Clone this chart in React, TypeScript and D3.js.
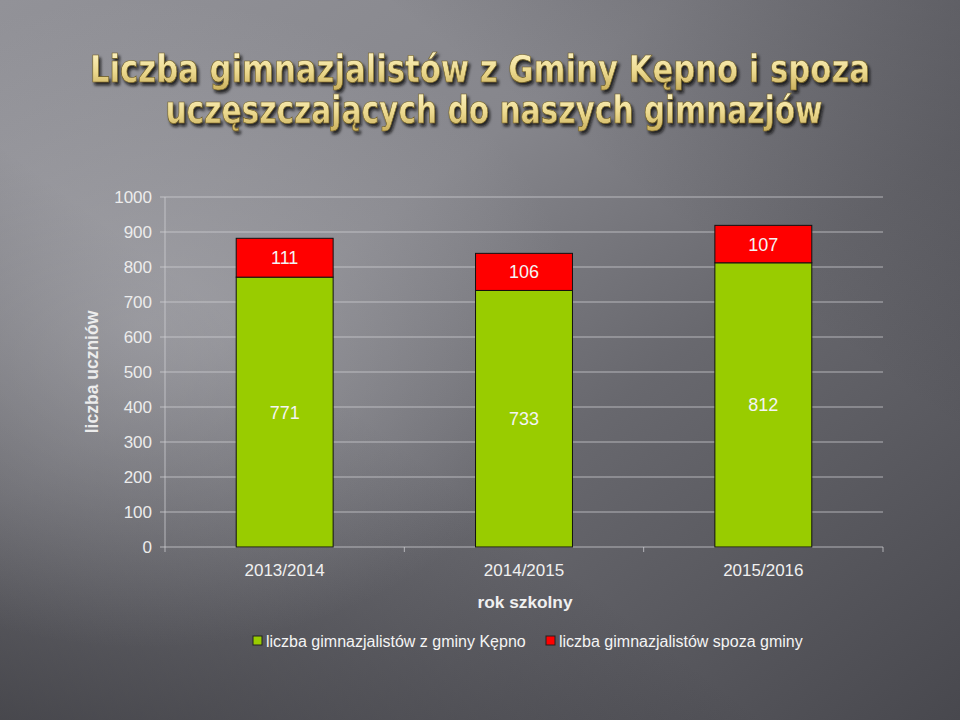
import React from "react";
import * as d3 from "d3";

const WIDTH = 960;
const HEIGHT = 720;

const years = ["2013/2014", "2014/2015", "2015/2016"];
const fromGmina = [771, 733, 812];
const outside = [111, 106, 107];
const yTicks = [0, 100, 200, 300, 400, 500, 600, 700, 800, 900, 1000];
const seriesNames = ["liczba gimnazjalistów z gminy Kępno", "liczba gimnazjalistów spoza gminy"];
const seriesColors = ["#99cc00", "#ff0000"];
const titleLines = ["Liczba gimnazjalistów z Gminy Kępno i spoza", "uczęszczających do naszych gimnazjów"];

const margin = { left: 165, right: 77, top: 197, bottom: 173 };
const FONT = "Liberation Sans, Arial, sans-serif";

export default function App() {
  const x = d3.scaleBand<string>()
    .domain(years)
    .range([margin.left, WIDTH - margin.right])
    .paddingInner(0.595)
    .paddingOuter(0.2975);
  const band = d3.scaleBand<string>().domain(years).range([margin.left, WIDTH - margin.right]);
  const y = d3.scaleLinear().domain([0, 1000]).range([HEIGHT - margin.bottom, margin.top]);

  const rows = years.map((yr, i) => ({ yr, a: fromGmina[i], b: outside[i] }));
  const stacked = d3.stack<any>().keys(["a", "b"])(rows);

  return (
    <svg width={WIDTH} height={HEIGHT} style={{ display: "block", position: "absolute", left: 0, top: 0 }}>
      <defs>
        <linearGradient id="bg" x1="0" y1="0" x2="1" y2="1">
          <stop offset="0" stopColor="#929298" />
          <stop offset="0.35" stopColor="#86868c" />
          <stop offset="0.6" stopColor="#68686e" />
          <stop offset="1" stopColor="#48484e" />
        </linearGradient>
        <linearGradient id="bg2" x1="0" y1="1" x2="1" y2="0">
          <stop offset="0" stopColor="#2a2a2f" stopOpacity="0.6" />
          <stop offset="0.4" stopColor="#2a2a2f" stopOpacity="0" />
          <stop offset="0.7" stopColor="#2e2e33" stopOpacity="0" />
          <stop offset="1" stopColor="#3a3a40" stopOpacity="0.35" />
        </linearGradient>
        <radialGradient id="glow" cx="0.15" cy="0.45" r="0.45">
          <stop offset="0" stopColor="#b8b8bd" stopOpacity="0.45" />
          <stop offset="1" stopColor="#b8b8bd" stopOpacity="0" />
        </radialGradient>
        <linearGradient id="gold" x1="0" y1="0" x2="0" y2="1">
          <stop offset="0" stopColor="#fff6c8" />
          <stop offset="0.55" stopColor="#ecd98e" />
          <stop offset="1" stopColor="#c9ae5a" />
        </linearGradient>
        <filter id="shadow" x="-5%" y="-20%" width="110%" height="150%">
          <feDropShadow dx="2" dy="3" stdDeviation="1.5" floodColor="#111" floodOpacity="0.85" />
        </filter>
      </defs>
      <rect width={WIDTH} height={HEIGHT} fill="url(#bg)" />
      <rect width={WIDTH} height={HEIGHT} fill="url(#bg2)" />
      <rect width={WIDTH} height={HEIGHT} fill="url(#glow)" />

      {/* title */}
      <g fontFamily="Liberation Sans Narrow, DejaVu Sans Condensed, Arial, sans-serif" fontSize={37} fontWeight="bold"
        fill="url(#gold)" stroke="#6b5a20" strokeWidth={0.6} filter="url(#shadow)" textAnchor="middle">
        <text x={480} y={82} textLength={780} lengthAdjust="spacingAndGlyphs">{titleLines[0]}</text>
        <text x={494} y={123} textLength={657} lengthAdjust="spacingAndGlyphs">{titleLines[1]}</text>
      </g>

      {/* gridlines and y axis */}
      <g fontFamily={FONT} fontSize={17} fill="#ececec">
        {yTicks.map(t => (
          <g key={t}>
            <line x1={margin.left - 5} x2={WIDTH - margin.right} y1={y(t)} y2={y(t)}
              stroke="#d0d0d4" strokeOpacity={0.75} strokeWidth={1} />
            <text x={152} y={y(t)} dy="0.36em" textAnchor="end">{t}</text>
          </g>
        ))}
        <line x1={margin.left} x2={margin.left} y1={y(1000)} y2={y(0) + 5} stroke="#d0d0d4" strokeOpacity={0.75} />
        {years.map(yr => (
          <line key={yr} x1={(band(yr) ?? 0) + band.bandwidth()} x2={(band(yr) ?? 0) + band.bandwidth()}
            y1={y(0)} y2={y(0) + 5} stroke="#d0d0d4" strokeOpacity={0.75} />
        ))}
        <text transform={`translate(98,${y(500)}) rotate(-90)`} textAnchor="middle" fontWeight="bold" fontSize={17.5}>
          liczba uczniów
        </text>
      </g>

      {/* bars */}
      {stacked.map((s, si) => (
        <g key={si}>
          {s.map((d, i) => (
            <rect key={i} x={x(years[i])} width={x.bandwidth()} y={y(d[1])} height={y(d[0]) - y(d[1])}
              fill={seriesColors[si]} stroke="#111" strokeWidth={1} />
          ))}
        </g>
      ))}
      <g fontFamily={FONT} fontSize={18} fill="#f4f4f4" textAnchor="middle">
        {stacked.map((s, si) => s.map((d, i) => (
          <text key={`${si}-${i}`} x={(x(years[i]) ?? 0) + x.bandwidth() / 2} y={y((d[0] + d[1]) / 2)} dy="0.36em">
            {si === 0 ? fromGmina[i] : outside[i]}
          </text>
        )))}
      </g>

      {/* x labels */}
      <g fontFamily={FONT} fontSize={17} fill="#f0f0f0" textAnchor="middle">
        {years.map(yr => (
          <text key={yr} x={(band(yr) ?? 0) + band.bandwidth() / 2} y={576}>{yr}</text>
        ))}
        <text x={525} y={608} fontWeight="bold" fontSize={17.3}>rok szkolny</text>
      </g>

      {/* legend */}
      <g fontFamily={FONT} fontSize={16} fill="#f4f4f4">
        {seriesNames.map((n, i) => {
          const lx = i === 0 ? 253 : 546;
          return (
            <g key={n}>
              <rect x={lx} y={636} width={9} height={9} fill={seriesColors[i]} stroke="#222" strokeWidth={1} />
              <text x={lx + 13} y={647}>{n}</text>
            </g>
          );
        })}
      </g>
    </svg>
  );
}
